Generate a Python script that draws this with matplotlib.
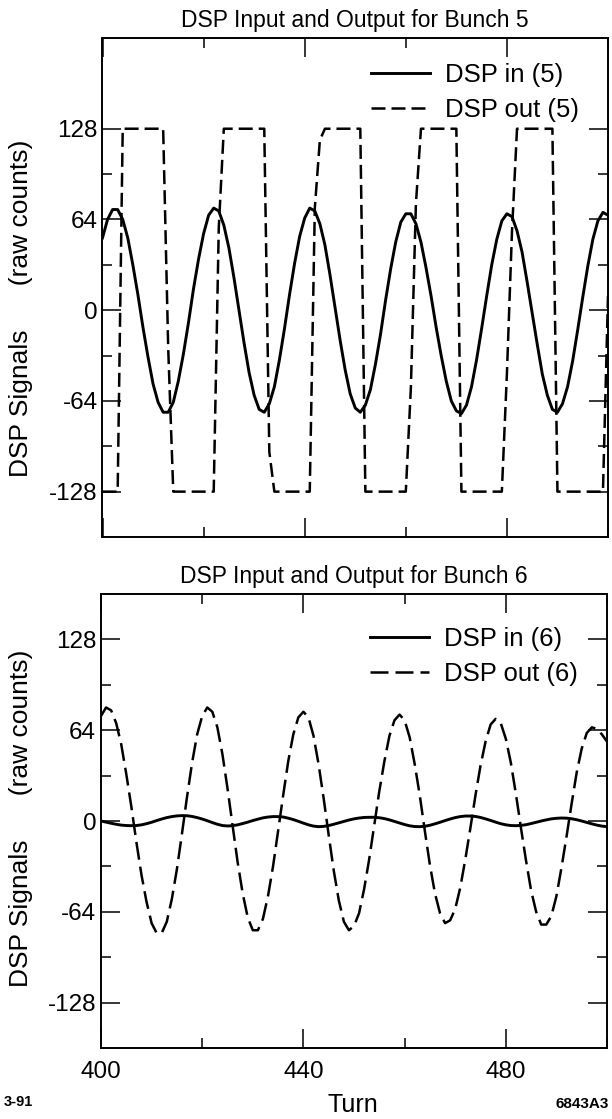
import numpy as np
import matplotlib
matplotlib.use("Agg")
import matplotlib.pyplot as plt
from matplotlib.ticker import FixedLocator

plt.rcParams["font.family"] = ["Liberation Sans", "DejaVu Sans"]
plt.rcParams["axes.unicode_minus"] = False

# turn number (one sample per turn)
turns = np.arange(400, 501)

# bunch 5: DSP input (sampled oscillation) and saturated DSP output
dsp_in_5 = [
    51, 64, 71, 71, 64, 51, 32, 11, -12, -33,
    -52, -65, -72, -72, -65, -50, -31, -9, 15, 36,
    54, 67, 72, 70, 60, 44, 23, 0, -23, -44,
    -60, -70, -72, -66, -54, -35, -13, 11, 33, 52,
    65, 72, 70, 61, 46, 25, 2, -21, -42, -59,
    -69, -72, -67, -56, -38, -17, 7, 29, 48, 62,
    68, 68, 61, 48, 30, 10, -12, -32, -50, -64,
    -71, -73, -67, -54, -35, -13, 10, 32, 50, 63,
    68, 66, 56, 41, 20, -2, -24, -45, -60, -70,
    -72, -66, -54, -36, -14, 9, 31, 50, 63, 69,
    67,
]
dsp_out_5 = [
    -128, -128, -128, -128, 128, 128, 128, 128, 128, 128,
    128, 128, 128, -27, -128, -128, -128, -128, -128, -128,
    -128, -128, -128, 58, 128, 128, 128, 128, 128, 128,
    128, 128, 128, -100, -128, -128, -128, -128, -128, -128,
    -128, -128, 72, 120, 128, 128, 128, 128, 128, 128,
    128, 128, -128, -128, -128, -128, -128, -128, -128, -128,
    -128, -55, 75, 128, 128, 128, 128, 128, 128, 128,
    128, -128, -128, -128, -128, -128, -128, -128, -128, -128,
    -45, 55, 128, 128, 128, 128, 128, 128, 128, 128,
    -128, -128, -128, -128, -128, -128, -128, -128, -128, -128,
    10,
]

# bunch 6: small DSP input, large DSP output
dsp_in_6 = [
    0.0, -0.8, -1.6, -2.3, -2.9, -3.2, -3.3, -3.2, -2.7, -1.9,
    -0.9, 0.3, 1.4, 2.4, 3.1, 3.6, 3.8, 3.7, 3.2, 2.4,
    1.4, 0.2, -1.1, -2.3, -3.2, -3.5, -3.3, -2.7, -1.8, -0.8,
    0.3, 1.3, 2.2, 2.8, 3.1, 3.1, 2.8, 2.0, 1.0, -0.2,
    -1.5, -2.7, -3.6, -4.0, -3.8, -3.2, -2.3, -1.3, -0.3, 0.7,
    1.5, 2.1, 2.5, 2.6, 2.6, 2.3, 1.7, 0.8, -0.3, -1.4,
    -2.5, -3.4, -3.9, -4.0, -3.7, -3.0, -2.0, -0.9, 0.3, 1.4,
    2.4, 3.1, 3.5, 3.5, 3.2, 2.5, 1.5, 0.4, -0.8, -1.9,
    -2.7, -3.2, -3.3, -3.1, -2.6, -1.8, -0.9, 0.0, 0.8, 1.5,
    1.9, 2.1, 2.0, 1.6, 0.9, 0.0, -1.0, -2.0, -2.9, -3.6,
    -4.0,
]
dsp_out_6 = [
    74, 80, 78, 69, 54, 33, 10, -15, -38, -57,
    -72, -79, -79, -71, -55, -34, -9, 17, 41, 61,
    74, 80, 77, 66, 47, 23, -3, -29, -51, -68,
    -77, -77, -69, -53, -32, -7, 18, 42, 61, 73,
    77, 73, 60, 40, 16, -10, -35, -56, -71, -77,
    -74, -65, -48, -27, -3, 21, 42, 60, 71, 75,
    71, 59, 40, 18, -7, -31, -51, -65, -72, -70,
    -62, -47, -27, -5, 18, 39, 56, 68, 72, 69,
    58, 41, 19, -5, -28, -49, -64, -73, -73, -67,
    -53, -33, -11, 12, 34, 51, 62, 66, 65, 61,
    56,
]

y_major = [-128, -64, 0, 64, 128]
y_minor = [-96, -32, 32, 96]
x_major = [400, 440, 480]
x_minor = [420, 460, 500]

W, H = 612, 1119
fig = plt.figure(figsize=(W / 100, H / 100), dpi=100)
ax1 = fig.add_axes([102.5 / W, 1 - 537 / H, 505.5 / W, 499 / H])
ax2 = fig.add_axes([101 / W, 1 - 1048 / H, 506 / W, 454 / H])

panels = [
    (ax1, dsp_in_5, dsp_out_5, "5", (-160, 192), (5.6, 2.4), 0.950),
    (ax2, dsp_in_6, dsp_out_6, "6", (-160, 160), (7.2, 2.8), 0.927),
]

for ax, sig_in, sig_out, bunch, ylim, dash, leg_y in panels:
    ax.plot(turns, sig_in, color="black", lw=2.1, label=f"DSP in ({bunch})")
    ax.plot(turns, sig_out, color="black", lw=1.8, dashes=dash,
            label=f"DSP out ({bunch})")
    ax.set_xlim(400, 500)
    ax.set_ylim(*ylim)
    ax.xaxis.set_major_locator(FixedLocator(x_major))
    ax.xaxis.set_minor_locator(FixedLocator(x_minor))
    ax.yaxis.set_major_locator(FixedLocator(y_major))
    ax.yaxis.set_minor_locator(FixedLocator(y_minor))
    ax.tick_params(which="both", direction="in", top=True, right=True,
                   width=1.1, labelsize=17.5)
    ax.tick_params(which="major", length=13.5)
    ax.tick_params(which="minor", length=7.5)
    ax.tick_params(axis="y", pad=3.5)
    ax.tick_params(axis="x", pad=9)
    for sp in ax.spines.values():
        sp.set_linewidth(1.4)
    ax.set_title(f"DSP Input and Output for Bunch {bunch}", fontsize=16.5, pad=8)
    ax.legend(loc="upper left", bbox_to_anchor=(0.531, leg_y), frameon=False,
              borderpad=0, borderaxespad=0, handlelength=2.3,
              handletextpad=0.6, labelspacing=0.42, fontsize=18.5)

ax1.tick_params(labelbottom=False)

fig.text(21 / W, 1 - 308 / H, "DSP Signals      (raw counts)", rotation=90,
         ha="center", va="center", fontsize=19)
fig.text(21 / W, 1 - 818 / H, "DSP Signals      (raw counts)", rotation=90,
         ha="center", va="center", fontsize=19)
fig.text(353 / W, 1 - 1105 / H, "Turn", ha="center", va="center", fontsize=18)
fig.text(4 / W, 1 - 1106 / H, "3-91", ha="left", va="baseline",
         fontsize=10.5, fontweight="bold")
fig.text(555 / W, 1 - 1108 / H, "6843A3", ha="left", va="baseline",
         fontsize=11, fontweight="bold")

fig.savefig("out.png", dpi=100)
